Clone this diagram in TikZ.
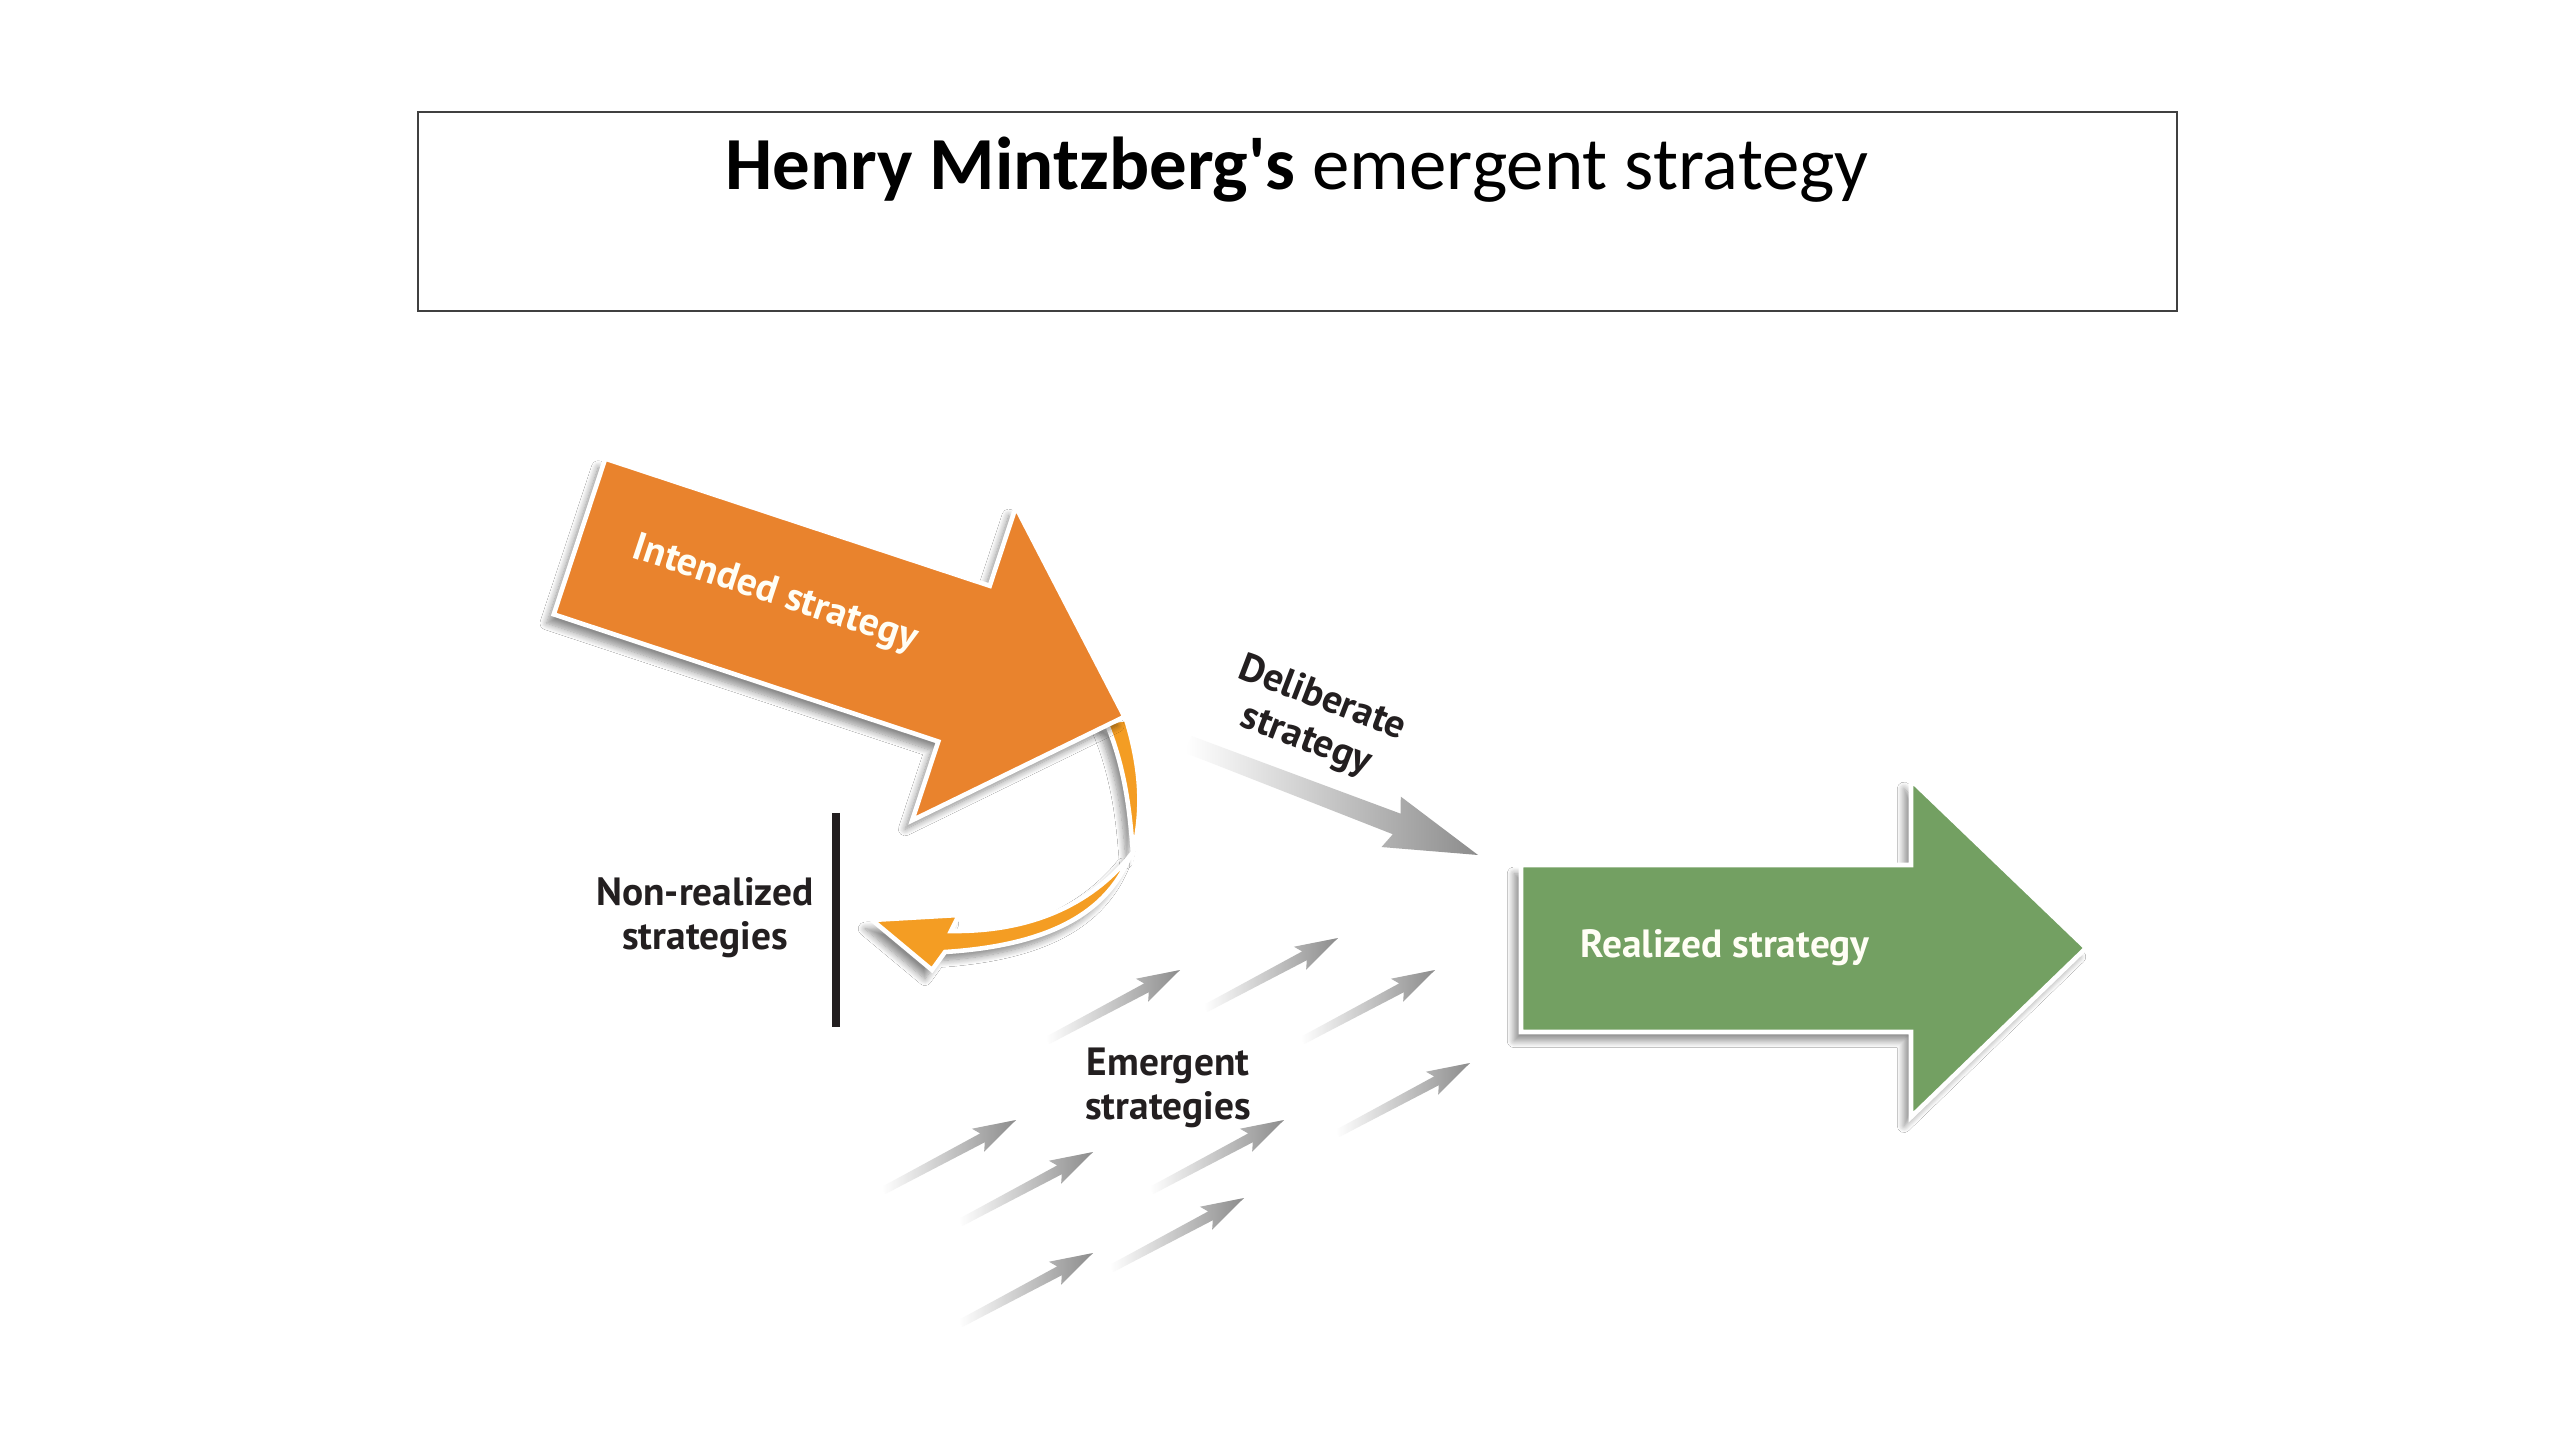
\documentclass[tikz,border=0pt]{standalone}
\usepackage{fontspec}
\setmainfont{Carlito}
\newfontfamily\labelfont{PT Sans}
\usetikzlibrary{shadows.blur}

\definecolor{intendedorange}{RGB}{233,131,45}
\definecolor{curlorange}{RGB}{244,157,35}
\definecolor{realizedgreen}{RGB}{115,160,98}
\definecolor{labelink}{RGB}{35,31,32}
\definecolor{arrowgray}{RGB}{140,140,140}

\begin{document}
\begin{tikzpicture}[x=0.01cm,y=-0.01cm,
  bigarrow/.style={draw=white,line width=1.3pt,line join=miter,
    blur shadow={shadow xshift=-2pt,shadow yshift=-2.5pt,shadow blur steps=10,shadow opacity=45}},
  lbl/.style={font=\labelfont\bfseries\fontsize{11.2}{12.6}\selectfont,text=labelink,align=center},
  inlbl/.style={lbl,text=white!96!yellow},
  emerg/.style={left color=white,right color=arrowgray}]
\fill[white] (0,0) rectangle (2560,1440);
\useasboundingbox (0,0) rectangle (2560,1440);

% title
\draw[black!75,line width=0.7pt] (418,112) rectangle (2177,311);
\node[anchor=base,font=\fontsize{21.3}{26}\selectfont] (title) at (1297,190) {\textbf{Henry Mintzberg\textquotesingle s} emergent strategy};

% non-realized curl
\fill[curlorange,bigarrow] (1106,722) -- (1126,719) .. controls (1143,775) and (1142,815) .. (1133,853) .. controls (1130,815) and (1126,770) .. (1106,722) -- cycle;
\fill[curlorange,bigarrow] (1130,856) .. controls (1105,918) and (1040,946) .. (945,952) -- (932,970) -- (872,920) -- (959,915) -- (951,931) .. controls (1030,932) and (1090,905) .. (1130,856) -- cycle;
\draw[labelink,line width=2.5pt] (836,813) -- (836,1027);
\node[lbl] (nonrealized) at (705,918) {Non-realized\\strategies};

% intended strategy
\begin{scope}[shift={(579.5,536.5)},rotate=-18.3]
\fill[intendedorange,bigarrow] (0,-82) -- (405,-82) -- (405,-165) -- (574,0) -- (405,165) -- (405,82) -- (0,82) -- cycle;
\node[inlbl,rotate=-18.3] (intended) at (204,-6) {Intended strategy};
\end{scope}

% deliberate strategy
\begin{scope}[shift={(1478,855)},rotate=-20.9]
\shade[emerg] (0,0) -- (-93,-27) -- (-87,-11) -- (-310,-9) -- (-310,9) -- (-87,11) -- (-93,27) -- cycle;
\end{scope}
\node[lbl,rotate=-21] (deliberate) at (1314,720) {Deliberate\\strategy};

% realized strategy
\fill[realizedgreen,bigarrow] (1521,865) -- (1911,865) -- (1911,780) -- (2086,948) -- (1911,1117) -- (1911,1032) -- (1521,1032) -- cycle;
\node[inlbl] (realized) at (1725,948) {Realized strategy};

% emergent strategies
\foreach \tx/\ty in {1180/970,1338/938,1435/970,1470/1063,1016/1120,1093/1152,1284/1120,1244/1198,1093/1253}
  \shade[emerg,shift={(\tx,\ty)},rotate=28] (0,0) -- (-43,-13) -- (-38,-5) -- (-150,-4) -- (-150,4) -- (-38,5) -- (-43,13) -- cycle;
\node[lbl] (emergent) at (1168,1088) {Emergent\\strategies};
\end{tikzpicture}
\end{document}
